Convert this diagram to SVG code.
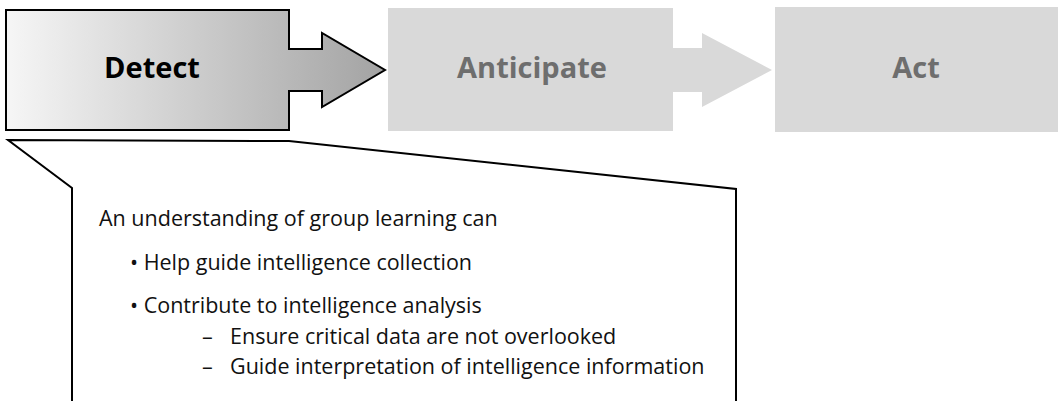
<svg xmlns="http://www.w3.org/2000/svg" width="1058" height="401" viewBox="0 0 1058 401">
<style>
.step{font-family:"Open Sans","Noto Sans","Liberation Sans",sans-serif;font-weight:bold;font-size:29px;text-anchor:middle}
.off{fill:#d9d9d9}
.offt{fill:#6e6e6e}
.body{font-family:"Open Sans","Noto Sans","Liberation Sans",sans-serif;font-size:21.5px;fill:#111}
</style>
<defs>
<linearGradient id="g" gradientUnits="userSpaceOnUse" x1="6" y1="0" x2="385" y2="0">
<stop offset="0" stop-color="#f6f6f6"/>
<stop offset="1" stop-color="#a3a3a3"/>
</linearGradient>
</defs>
<g id="act">
<rect class="off" x="775" y="7" width="283" height="125"/>
<text class="step offt" x="916" y="78">Act</text>
</g>
<g id="anticipate">
<polygon class="off" points="388,8 673,8 673,48 702,48 702,33 772,70 702,107 702,92 673,92 673,131 388,131"/>
<text class="step offt" x="532" y="78">Anticipate</text>
</g>
<g id="detect">
<polygon fill="url(#g)" stroke="#000" stroke-width="2" points="6,10 289,10 289,49 322,49 322,33 385,70 322,107 322,91 289,91 289,130 6,130"/>
<text class="step" x="152" y="78" fill="#000">Detect</text>
</g>
<g id="callout">
<polyline fill="none" stroke="#000" stroke-width="2" points="72,402 72,188 8,140 289,141 736,189 736,402"/>
<text class="body" x="99" y="226">An understanding of group learning can</text>
<text class="body" x="130" y="270">• Help guide intelligence collection</text>
<text class="body" x="130" y="313">• Contribute to intelligence analysis</text>
<text class="body" x="202" y="344">–</text>
<text class="body" x="230" y="344">Ensure critical data are not overlooked</text>
<text class="body" x="202" y="374">–</text>
<text class="body" x="230" y="374">Guide interpretation of intelligence information</text>
</g>
</svg>
